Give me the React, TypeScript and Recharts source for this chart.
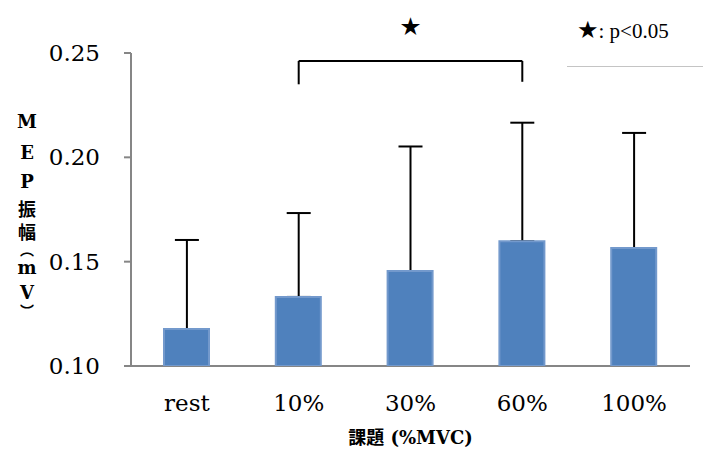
import React from 'react';
import {
  ComposedChart,
  Bar,
  Line,
  ErrorBar,
  XAxis,
  YAxis,
  ReferenceLine,
  ReferenceDot,
} from 'recharts';

// 課題ごとの MEP 振幅 (mV)
const categories = ['rest', '10%', '30%', '60%', '100%'];
const meanValues = [0.1177, 0.1331, 0.1455, 0.1598, 0.1565];
const sdValues = [0.0427, 0.0402, 0.0597, 0.0568, 0.0552];
const yTicks = [0.1, 0.15, 0.2, 0.25];

// y label, one character per line (vertical)
const yLabelChars = ['M', 'E', 'P', '振', '幅', '︵', 'm', 'V', '︶'];
const yLabelTops = [122, 153, 182, 210, 233, 250, 268, 293, 311];

const data = categories.map((c, i) => ({
  name: c,
  mean: meanValues[i],
  err: [0, sdValues[i]],
}));

const serif = '"DejaVu Serif", "Liberation Serif", "Noto Sans CJK JP", serif';
const W = 703;
const H = 449;
const margin = { top: 53, right: 13, bottom: 0, left: 0 };

// same axis layout in both layers so the scales line up
const axes = (visible: boolean) => [
  <XAxis
    key="grid"
    xAxisId="grid"
    type="number"
    domain={[0, 5]}
    ticks={[0, 1, 2, 3, 4, 5]}
    tick={false}
    tickSize={7}
    height={0}
    stroke={visible ? '#868686' : 'none'}
    strokeWidth={2}
    axisLine={false}
    tickLine={visible}
  />,
  <XAxis
    key="cat"
    dataKey="name"
    height={83}
    tickLine={false}
    tickSize={7}
    tickMargin={22}
    axisLine={visible ? { stroke: '#868686', strokeWidth: 2 } : false}
    tick={visible ? { fill: '#000', fontSize: 23, fontFamily: serif } : false}
    label={
      visible
        ? {
            value: '課題 (%MVC)',
            position: 'insideBottom',
            offset: 5,
            fill: '#000',
            fontSize: 18,
            fontWeight: 'bold',
            fontFamily: serif,
          }
        : undefined
    }
  />,
  <YAxis
    key="y"
    width={131}
    domain={[0.1, 0.25]}
    ticks={yTicks}
    tickFormatter={(v: number) => v.toFixed(2)}
    allowDataOverflow
    tickSize={7}
    tickMargin={24}
    axisLine={visible ? { stroke: '#868686', strokeWidth: 2 } : false}
    tickLine={visible ? { stroke: '#868686', strokeWidth: 2 } : false}
    tick={visible ? { fill: '#000', fontSize: 23, fontFamily: serif } : false}
  />,
];

const App: React.FC = () => {
  return (
    <div style={{ position: 'absolute', left: 0, top: 0, width: W, height: H, background: '#fff' }}>
      {/* bottom layer: axes, error bars, bracket */}
      <div style={{ position: 'absolute', left: 0, top: 0 }}>
        <ComposedChart width={W} height={H} data={data} margin={margin}>
          {axes(true)}
          <Bar dataKey="mean" barSize={45} fill="none" isAnimationActive={false} />
          <Line dataKey="mean" stroke="none" dot={false} activeDot={false} isAnimationActive={false}>
            <ErrorBar dataKey="err" direction="y" width={12} stroke="#000" strokeWidth={2} />
          </Line>
          <ReferenceLine
            segment={[{ x: '10%', y: 0.2462 }, { x: '60%', y: 0.2462 }]}
            stroke="#000"
            strokeWidth={2}
            ifOverflow="visible"
          />
          <ReferenceLine
            segment={[{ x: '10%', y: 0.2462 }, { x: '10%', y: 0.235 }]}
            stroke="#000"
            strokeWidth={2}
            ifOverflow="visible"
          />
          <ReferenceLine
            segment={[{ x: '60%', y: 0.2462 }, { x: '60%', y: 0.2362 }]}
            stroke="#000"
            strokeWidth={2}
            ifOverflow="visible"
          />
          <ReferenceDot
            x="30%"
            y={0.2625}
            r={0}
            ifOverflow="visible"
            label={{ value: '★', position: 'center', fill: '#000', fontSize: 20, fontFamily: serif }}
          />
        </ComposedChart>
      </div>

      {/* top layer: bars (hide the lower error caps) */}
      <div style={{ position: 'absolute', left: 0, top: 0 }}>
        <ComposedChart width={W} height={H} data={data} margin={margin}>
          {axes(false)}
          <Bar
            dataKey="mean"
            barSize={45}
            fill="#4f81bd"
            stroke="#7399cc"
            strokeWidth={2}
            isAnimationActive={false}
          />
        </ComposedChart>
      </div>

      {/* legend */}
      <div
        style={{
          position: 'absolute',
          left: 577,
          top: 16,
          fontFamily: '"Liberation Serif", serif',
          fontSize: 21,
          lineHeight: '28px',
          color: '#000',
          whiteSpace: 'nowrap',
        }}
      >
        <span style={{ fontSize: 24, fontFamily: '"DejaVu Sans", sans-serif' }}>★</span>: p&lt;0.05
      </div>
      <div style={{ position: 'absolute', left: 567, top: 66, width: 136, height: 1, background: '#c4c4c4' }} />

      {/* y label */}
      {yLabelChars.map((ch, i) => {
        const paren = ch === '︵' || ch === '︶';
        const h = paren ? 14 : 18;
        return (
          <div
            key={i}
            style={{
              position: 'absolute',
              left: 12,
              width: 30,
              top: yLabelTops[i] - h / 2,
              height: h,
              lineHeight: `${h}px`,
              textAlign: 'center',
              fontFamily: serif,
              fontWeight: 'bold',
              fontSize: paren ? 14 : 18,
              color: '#000',
            }}
          >
            {ch}
          </div>
        );
      })}
    </div>
  );
};

export default App;
